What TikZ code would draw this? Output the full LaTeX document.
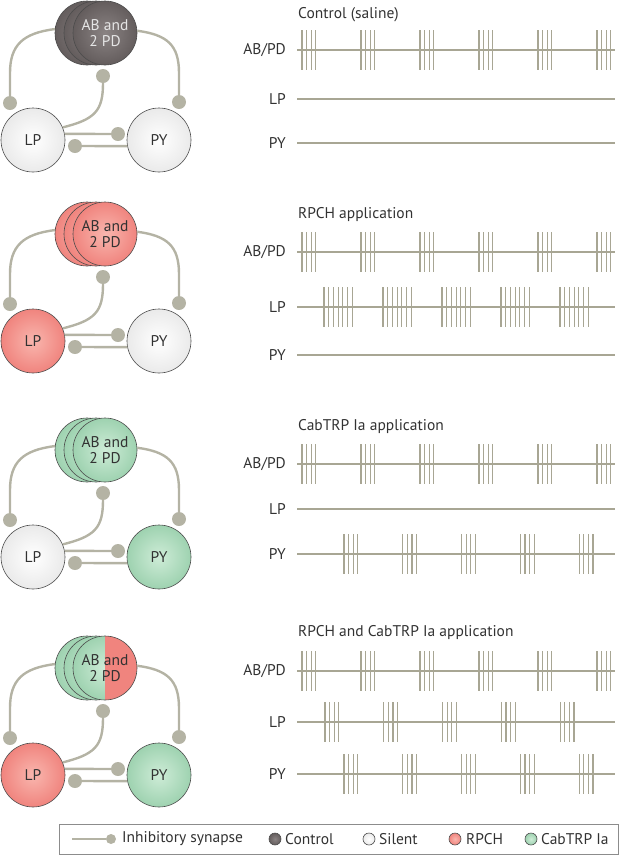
\documentclass[tikz,border=0pt]{standalone}
\usepackage{fontspec}
\setmainfont{PT Sans}
\usepackage{xcolor}
\usepackage{tikz}
\usetikzlibrary{positioning,calc}

\definecolor{synclr}{RGB}{180,179,164}
\definecolor{trclr}{RGB}{168,166,148}
\definecolor{ctrlclr}{RGB}{100,93,93}
\definecolor{ctrlin}{RGB}{138,131,131}
\definecolor{silclr}{RGB}{234,234,234}
\definecolor{rpchclr}{RGB}{240,132,126}
\definecolor{rpchin}{RGB}{249,182,174}
\definecolor{cabclr}{RGB}{158,210,176}
\definecolor{cabin}{RGB}{206,236,215}
\definecolor{txtclr}{RGB}{50,50,50}

\begin{document}
\begin{tikzpicture}[x=1pt,y=-1pt,font=\fontsize{15.5}{16.5}\selectfont,text=txtclr,
		cell/.style={circle,draw=black!70,line width=0.6pt,minimum size=64pt,inner sep=0pt,align=center},
		ctrl/.style={cell,inner color=ctrlin,outer color=ctrlclr,text=white!90!black},
		silent/.style={cell,inner color=white,outer color=silclr},
		rpch/.style={cell,inner color=rpchin,outer color=rpchclr},
		cab/.style={cell,inner color=cabin,outer color=cabclr},
		split/.style={cab,path picture={\fill[rpchclr] (path picture bounding box.north) rectangle (path picture bounding box.south east);}},
		syn/.style={draw=synclr,line width=2.4pt},
		syndot/.style={circle,fill=synclr,minimum size=14pt,inner sep=0pt},
		trace/.style={draw=trclr,line width=1.8pt},
		spk/.style={draw=trclr,line width=1.2pt},
		lbl/.style={anchor=east,inner sep=0pt},
		ttl/.style={anchor=west,inner sep=0pt}]
	\useasboundingbox (0,0) rectangle (621,855);

	% circuits
	\foreach \i/\Y/\abst/\frst/\lpst/\pyst in {1/33/ctrl/ctrl/silent/silent,2/234/rpch/rpch/rpch/silent,3/450/cab/cab/silent/cab,4/668/cab/split/rpch/cab}{
		\node[\abst] (abc\i) at (87,\Y) {};
		\node[\abst] (abb\i) at (96,\Y) {};
		\node[\frst] (ab\i) at (105,\Y) {AB and\\2 PD};
		\node[\lpst] (lp\i) at (33,\Y+107) {LP};
		\node[\pyst] (py\i) at (159,\Y+107) {PY};
		\node[syndot] (sl\i) at (10,\Y+70) {};
		\node[syndot] (sr\i) at (179,\Y+69) {};
		\node[syndot] (sc\i) at (103,\Y+43) {};
		\node[syndot] (sh\i) at (118,\Y+101) {};
		\node[syndot] (sk\i) at (75,\Y+113) {};
		\coordinate (lk\i) at (10,\Y+40);
		\coordinate (rk\i) at (179,\Y+40);
		\draw[syn] (abc\i.173) .. controls +(-32,4) and +(0,-28) .. (lk\i) -- (sl\i.north);
		\draw[syn] (ab\i.4) .. controls +(30,4) and +(0,-28) .. (rk\i) -- (sr\i.north);
		\draw[syn] (lp\i.23) .. controls +(32,-8) and +(0,28) .. (sc\i.south);
		\draw[syn] (lp\i.11) -- (sh\i.west);
		\draw[syn] (py\i.191) -- (sk\i.east);
	}

	% rasters
	\foreach \i/\yt/\ya/\yl/\yp/\ttext in {1/15/50/99/143/Control (saline),2/215/252/307/355/RPCH application,3/427/464/509/554/CabTRP Ia application,4/633/671/722/774/RPCH and CabTRP Ia application}{
		\node[ttl] (ttl\i) at (298,\yt) {\ttext};
		\node[lbl] (abpd\i) at (286,\ya) {AB/PD};
		\node[lbl] (lpl\i) at (286,\yl) {LP};
		\node[lbl] (pyl\i) at (286,\yp) {PY};
		\draw[trace] (297,\ya) -- (615,\ya);
		\draw[trace] (297,\yl) -- (615,\yl);
		\draw[trace] (297,\yp) -- (615,\yp);
	}
	\foreach \ya in {50,252,464,671}
		\foreach \b in {0,...,5}
			\foreach \s in {0,...,3}
				\draw[spk] ({302+59*\b+4.6*\s},\ya-20) -- ++(0,40);
	\foreach \b in {0,...,4}
		\foreach \s in {0,...,6}
			\draw[spk] ({324+59*\b+4.7*\s},287) -- ++(0,40);
	\foreach \b in {0,...,4}
		\foreach \s in {0,...,3}
			\draw[spk] ({325+58.8*\b+4.6*\s},702) -- ++(0,40);
	\foreach \yp in {554,774}
		\foreach \b in {0,...,4}
			\foreach \s in {0,...,3}
				\draw[spk] ({344+58.8*\b+4.6*\s},\yp-20) -- ++(0,40);

	% legend
	\node[draw=black!45,line width=0.6pt,minimum width=559pt,minimum height=30pt,inner sep=0pt] (legend) at (338.5,839) {};
	\coordinate (lgs) at (72,839);
	\node[syndot,minimum size=10pt] (lgdot) at (111,839) {};
	\draw[syn,line width=2pt] (lgs) -- (lgdot.west);
	\node[ttl] (lgsyn) at (122,839) {Inhibitory synapse};
	\node[ctrl,minimum size=12pt] (lgctrl) at (275,839) {};
	\node[ttl] (lgctrlt) at (285,839) {Control};
	\node[silent,minimum size=12pt] (lgsil) at (369,839) {};
	\node[ttl] (lgsilt) at (379,839) {Silent};
	\node[rpch,minimum size=12pt] (lgrpch) at (455,839) {};
	\node[ttl] (lgrpcht) at (466,839) {RPCH};
	\node[cab,minimum size=12pt] (lgcab) at (531,839) {};
	\node[ttl] (lgcabt) at (541,839) {CabTRP Ia};
\end{tikzpicture}
\end{document}
